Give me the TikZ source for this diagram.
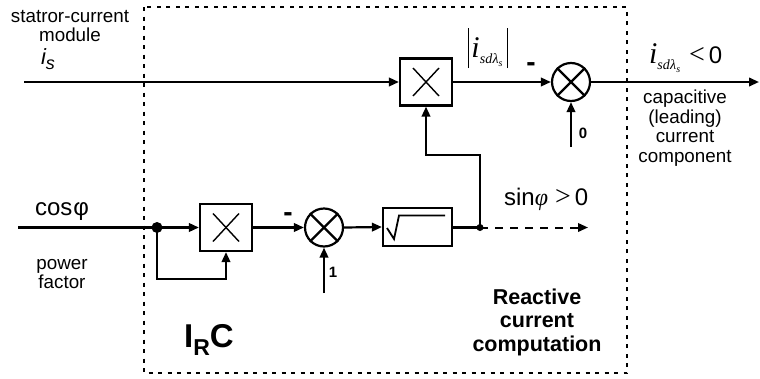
\documentclass[tikz,border=0pt]{standalone}
\usepackage{fontspec}
\setmainfont{Liberation Sans}
\newfontfamily\tmsf{Liberation Serif}
\usetikzlibrary{arrows.meta}
\newcommand\isdl{{\tmsf\itshape\fontsize{30}{30}\selectfont i}\raisebox{-6.5pt}{\tmsf\itshape\fontsize{14}{14}\selectfont sd\kern0.3pt λ\raisebox{-2.5pt}{\fontsize{10}{10}\selectfont s}}}
\begin{document}
\begin{tikzpicture}[x=1pt,y=-1pt,
  line width=2.2pt,
  sig/.style={-{Triangle[length=10pt,width=8.5pt]}},
  mulbox/.style={draw, minimum width=52pt, minimum height=47pt, inner sep=0pt},
  sqbox/.style={draw, minimum width=69pt, minimum height=38pt, inner sep=0pt},
  sumc/.style={draw, circle, minimum size=38pt, inner sep=0pt},
  lbl/.style={font=\fontsize{18.8}{19.5}\selectfont, align=center, inner sep=0pt},
  blbl/.style={font=\bfseries\fontsize{21.5}{23.5}\selectfont, align=center, inner sep=0pt},
  num/.style={font=\bfseries\fontsize{15}{15}\selectfont, inner sep=0pt},
  minus/.style={font=\bfseries\fontsize{28}{28}\selectfont, inner sep=0pt},
  plain/.style={inner sep=0pt},
  frame/.style={line width=2.5pt, dash pattern=on 4pt off 5.5pt}
]
\useasboundingbox (0,0) rectangle (760,378);
% frame
\draw[frame] (144,7) rectangle (627,373);
% blocks
\node[mulbox] (m1) at (426,82) {};
\node[sumc] (s1) at (571,82) {};
\node[mulbox] (m2) at (226,227.5) {};
\node[sumc] (s2) at (324,227.5) {};
\node[sqbox] (sq) at (417.5,227) {};
% block symbols
\draw[line width=1.4pt] (m1.center) +(-13,-14) -- +(13,14);
\draw[line width=1.4pt] (m1.center) +(-13,14) -- +(13,-14);
\draw[line width=1.4pt] (m2.center) +(-13,-14) -- +(13,14);
\draw[line width=1.4pt] (m2.center) +(-13,14) -- +(13,-14);
\draw (s1.north west) -- (s1.south east);
\draw (s1.north east) -- (s1.south west);
\draw (s2.north west) -- (s2.south east);
\draw (s2.north east) -- (s2.south west);
\draw[line width=1.8pt, line join=miter] (387,228) -- (394,239) -- (399,215.5) -- (445,215.5);
% coordinates
\coordinate (inS) at (24,82);
\coordinate (outS) at (759,82);
\coordinate (zeroIn) at (571,147);
\coordinate (cosIn) at (18,227.5);
\coordinate (oneIn) at (324,293);
\coordinate (sinOut) at (588,227.5);
\coordinate (fb1) at (157,279);
\coordinate (fb2) at (480,155);
% junction dots
\node[circle, fill, inner sep=0pt, minimum size=11pt] (d1) at (157,227.5) {};
\node[circle, fill, inner sep=0pt, minimum size=7pt] (d2) at (480,227.5) {};
% connectors
\draw[sig] (inS) -- (m1.west);
\draw[sig] (m1.east) -- (s1.west);
\draw[sig] (s1.east) -- (outS);
\draw[sig] (zeroIn) -- (s1.south);
\draw[sig] (d2.center) -- (fb2) -| (m1.south);
\draw (cosIn) -- (d1.center);
\draw[sig] (d1.center) -- (m2.west);
\draw[sig] (d1.center) -- (fb1) -| (m2.south);
\draw[sig] (m2.east) -- (s2.west);
\draw[sig] (oneIn) -- (s2.south);
\draw[sig] (s2.east) -- (sq.west);
\draw (sq.east |- d2) -- (d2.center);
\draw[sig, line width=2pt, dash pattern=on 8pt off 7pt] (d2.center) -- (sinOut);
% labels
\node[lbl] (tStat) at (70,26) {statror-current\\module};
\node[plain, anchor=base west, font=\fontsize{22}{22}\selectfont\itshape] (tIs) at (40,64) {i\raisebox{-5pt}{\fontsize{18}{18}\selectfont s}};
\node[minus] (tMin1) at (531,67) {-};
\node[plain] (tAbs) at (488,48) {\rule[-11pt]{1pt}{40pt}\kern2pt\isdl\kern4pt\rule[-11pt]{1pt}{40pt}};
\node[plain, anchor=base west] (tOut) at (648,63) {\isdl\kern9pt{\tmsf\fontsize{28}{28}\selectfont <}\kern4pt{\fontsize{24}{24}\selectfont 0}};
\node[lbl] (tCap) at (685,128) {capacitive\\(leading)\\current\\component};
\node[num] (tZero) at (583,133) {0};
\node[plain, anchor=base west, font=\fontsize{24}{24}\selectfont] (tCos) at (34,215) {cos\kern1ptφ};
\node[lbl] (tPow) at (62,274) {power\\factor};
\node[minus] (tMin2) at (288,217) {-};
\node[num] (tOne) at (333,272) {1};
\node[plain, anchor=base west, font=\fontsize{24}{24}\selectfont] (tSin) at (503,205) {sin{\tmsf\itshape φ}\kern7pt{\tmsf\fontsize{28}{28}\selectfont >}\kern4pt0};
\node[blbl] (tReact) at (537,322) {Reactive\\current\\computation};
\node[plain, font=\bfseries\fontsize{33}{33}\selectfont] (tIRC) at (209,340) {I\raisebox{-8pt}{\fontsize{23}{23}\selectfont R}C};
\end{tikzpicture}
\end{document}
